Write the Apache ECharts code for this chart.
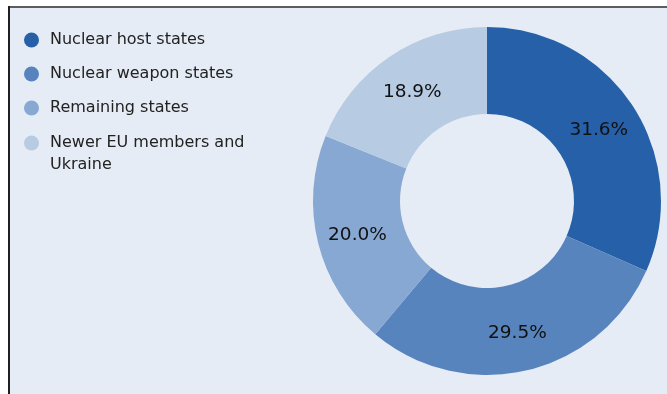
<!DOCTYPE html>
<html>
<head>
<meta charset="utf-8">
<script src="https://cdn.jsdelivr.net/npm/echarts@6/dist/echarts.min.js"></script>
<style>
  html, body { margin: 0; padding: 0; background: #ffffff; }
  #chart { width: 667px; height: 394px; }
</style>
</head>
<body>
<div id="chart"></div>
<script>
// Share of warheads by group of states
const categories = ['Nuclear host states', 'Nuclear weapon states', 'Remaining states', 'Newer EU members and Ukraine'];
const shares = [31.6, 29.5, 20.0, 18.9];
const colors = ['#2660a8', '#5884be', '#86a8d2', '#b7cbe3'];

const FONT = '"DejaVu Sans", Verdana, sans-serif';

const chart = echarts.init(document.getElementById('chart'), null, { renderer: 'canvas' });

const pieData = categories.map((name, i) => ({
  name: name,
  value: shares[i],
  itemStyle: { color: colors[i] }
}));

const legendText = {
  fontFamily: FONT,
  fontSize: 16,
  lineHeight: 22,
  color: '#222222'
};

const legendBase = {
  orient: 'vertical',
  left: 24,
  padding: 0,
  icon: 'circle',
  itemWidth: 27,
  itemHeight: 15,
  itemGap: 12,
  selectedMode: false,
  textStyle: legendText
};

const lastName = categories[categories.length - 1];

chart.setOption({
  backgroundColor: '#ffffff',
  animation: false,
  graphic: [
    // panel
    { type: 'rect', silent: true, z: -10, shape: { x: 8, y: 6, width: 659, height: 388 }, style: { fill: '#e6ecf5' } },
    // top rule
    { type: 'rect', silent: true, z: -5, shape: { x: 8, y: 6, width: 659, height: 2 }, style: { fill: '#5c5c5c' } },
    // left rule
    { type: 'rect', silent: true, z: -5, shape: { x: 8, y: 6, width: 2, height: 388 }, style: { fill: '#231f20' } }
  ],
  legend: [
    Object.assign({}, legendBase, {
      top: 29,
      data: categories.slice(0, categories.length - 1)
    }),
    // two-line entry: a leading empty line keeps the first line level with its marker
    Object.assign({}, legendBase, {
      top: 110,
      data: [lastName],
      formatter: function () { return '\nNewer EU members and\nUkraine'; }
    })
  ],
  series: [{
    type: 'pie',
    center: [487, 201],
    radius: [87, 174],
    startAngle: 90,
    clockwise: true,
    avoidLabelOverlap: false,
    label: {
      show: true,
      position: 'inside',
      offset: [0, 2],
      formatter: function (p) { return p.value.toFixed(1) + '%'; },
      fontFamily: FONT,
      fontSize: 18.5,
      color: '#111111'
    },
    labelLine: { show: false },
    itemStyle: { borderWidth: 0 },
    emphasis: { disabled: true },
    data: pieData
  }]
});
</script>
</body>
</html>
